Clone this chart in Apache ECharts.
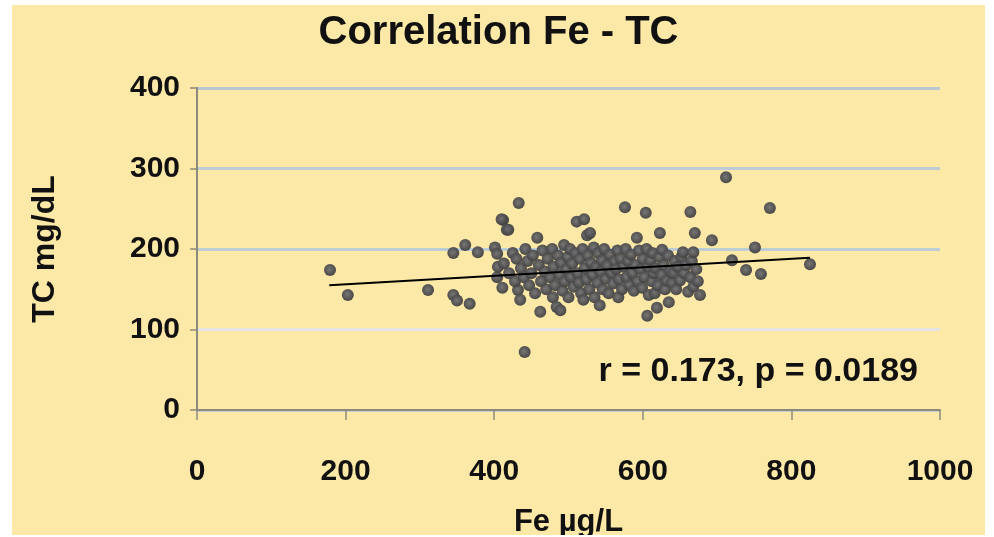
<!DOCTYPE html>
<html>
<head>
<meta charset="utf-8">
<script src="https://cdn.jsdelivr.net/npm/echarts@6/dist/echarts.min.js"></script>
<style>
  html, body { margin: 0; padding: 0; background: #ffffff; }
  #main { position: absolute; left: 12px; top: 5px; width: 973px; height: 530px; }
</style>
</head>
<body>
<div id="main"></div>
<script>
// Fe (µg/L) vs TC (mg/dL)
var points = [
  [179,174],[203,143],[311,149],[345,195],[361,205],[378,196],[345,143],[350,136],[367,132],
  [401,202],[404,194],[404,165],[405,178],[412,236],[417,224],[410,237],[419,224],[433,257],
  [441,72],[411,152],[432,149],[435,137],[413,182],[420,170],[425,195],[428,160],[430,188],
  [436,176],[440,165],[442,200],[445,185],[447,155],[450,170],[452,192],[455,145],[458,214],
  [460,180],[462,122],[463,160],[465,198],[468,172],[470,150],[472,188],[475,165],[478,200],
  [479,140],[480,178],[482,155],[484,128],[486,192],[488,168],[489,124],[490,183],[492,148],
  [494,205],[495,160],[497,175],[499,190],[500,140],[502,200],[503,165],[505,182],[507,153],
  [509,195],[511,234],[512,170],[514,158],[515,188],[517,145],[519,200],[520,137],[521,237],
  [522,176],[524,162],[525,217],[526,192],[528,150],[529,220],[530,183],[532,168],[534,202],
  [535,140],[537,178],[539,158],[540,195],[542,130],[543,172],[545,186],[546,150],[548,200],
  [550,163],[552,180],[554,145],[556,193],[558,170],[560,157],[562,185],[564,175],[566,198],
  [567,140],[568,162],[570,188],[572,150],[574,178],[576,252],[577,200],[578,165],[580,185],
  [582,155],[584,193],[586,170],[588,148],[590,180],[592,214],[593,160],[595,198],[597,175],
  [599,152],[600,188],[602,165],[604,245],[605,200],[606,117],[607,178],[608,143],[610,186],
  [612,160],[613,195],[615,170],[616,145],[617,176],[619,127],[620,155],[622,190],[623,220],
  [625,168],[626,199],[628,180],[630,150],[632,161],[634,192],[635,134],[637,172],[639,158],
  [641,170],[643,185],[645,150],[647,178],[650,161],[652,190],[654,196],[656,170],[658,180],
  [661,147],[664,165],[664,246],[666,185],[668,196],[668,153],[670,220],[672,175],[674,160],
  [677,143],[693,211],[712,289],[720,186],[739,174],[751,202],[759,169],[771,251],[825,181]
];

// linear trend line end points
var trendX = [178, 825];
var trendY = [155, 189];

var titleText = 'Correlation Fe - TC';
var xName = 'Fe µg/L';
var yName = 'TC mg/dL';
var statText = 'r = 0.173, p = 0.0189';

var trend = trendX.map(function (x, i) { return [x, trendY[i]]; });

var labelFont = 'Liberation Sans';

var myChart = echarts.init(document.getElementById('main'));

var option = {
    backgroundColor: '#fde9a7',
    animation: false,
    title: {
        text: titleText,
        left: 'center',
        top: 3,
        textStyle: {
            fontFamily: labelFont,
            fontWeight: 'bold',
            fontSize: 40,
            color: '#111'
        }
    },
    grid: {
        left: 185,
        right: 45,
        top: 83,
        bottom: 125,
        containLabel: false,
        outerBoundsMode: 'none'
    },
    xAxis: {
        type: 'value',
        min: 0,
        max: 1000,
        interval: 200,
        name: xName,
        nameLocation: 'middle',
        nameGap: 97,
        nameTextStyle: {
            fontFamily: labelFont,
            fontWeight: 'bold',
            fontSize: 31,
            color: '#111'
        },
        axisLine: { lineStyle: { color: '#8c8a7e', width: 2 } },
        axisTick: { length: 10, lineStyle: { color: '#8c8a7e', width: 1.5 } },
        axisLabel: {
            margin: 47,
            fontFamily: labelFont,
            fontWeight: 'bold',
            fontSize: 30,
            color: '#111',
            formatter: function (v) { return String(v); }
        },
        splitLine: { show: false }
    },
    yAxis: {
        type: 'value',
        min: 0,
        max: 400,
        interval: 100,
        name: yName,
        nameLocation: 'middle',
        nameGap: 136,
        nameTextStyle: {
            fontFamily: labelFont,
            fontWeight: 'bold',
            fontSize: 32,
            color: '#111'
        },
        axisLine: { show: true, lineStyle: { color: '#8c8a7e', width: 2 } },
        axisTick: { show: true, length: 7, lineStyle: { color: '#8c8a7e', width: 1.5 } },
        axisLabel: {
            margin: 17,
            fontFamily: labelFont,
            fontWeight: 'bold',
            fontSize: 30,
            color: '#111'
        },
        splitLine: {
            show: true,
            lineStyle: {
                width: 3,
                color: ['#c9cfd0', '#e4e4e2', '#bccdd6', '#bccdd6', '#b6c9d2']
            }
        }
    },
    graphic: [{
        type: 'text',
        right: 67,
        top: 350,
        style: {
            text: statText,
            fontFamily: labelFont,
            fontWeight: 'bold',
            fontSize: 34,
            fill: '#111'
        }
    }],
    series: [{
        type: 'scatter',
        data: points,
        symbol: 'circle',
        symbolSize: 12,
        itemStyle: {
            color: {
                type: 'radial', x: 0.45, y: 0.45, r: 0.6,
                colorStops: [
                    { offset: 0, color: '#707074' },
                    { offset: 1, color: '#3c3c3c' }
                ]
            },
            opacity: 0.95
        },
        z: 2
    }, {
        type: 'line',
        data: trend,
        symbol: 'none',
        lineStyle: { color: '#000', width: 2 },
        z: 3
    }]
};

myChart.setOption(option);
</script>
</body>
</html>
